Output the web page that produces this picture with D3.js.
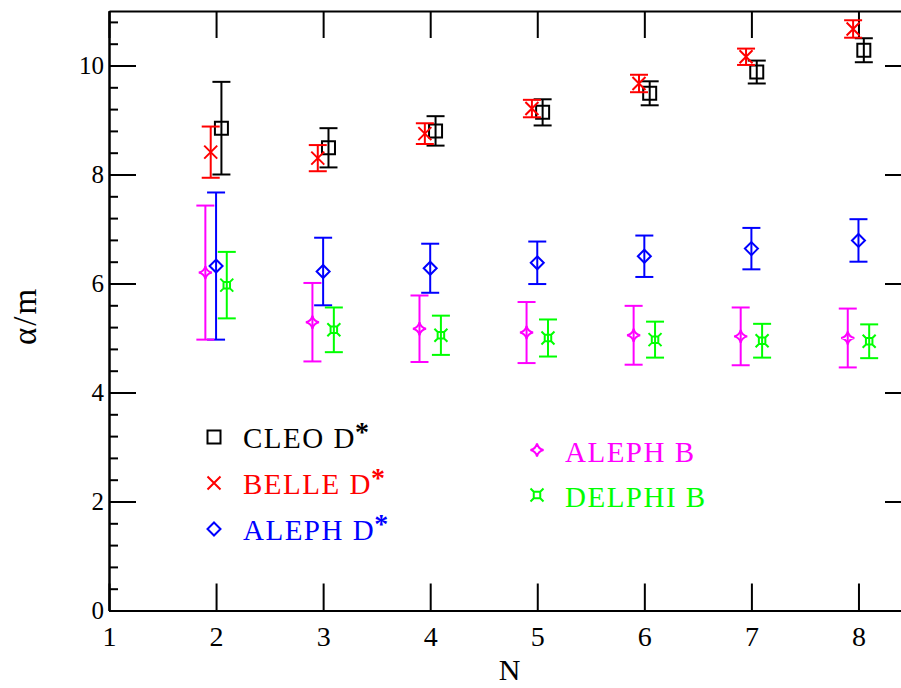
<!DOCTYPE html>
<html>
<head>
<meta charset="utf-8">
<script src="https://cdn.jsdelivr.net/npm/d3@7"></script>
<style>
  html, body { margin: 0; padding: 0; background: #fff; }
  svg { display: block; }
  text { font-family: "Liberation Serif", "DejaVu Serif", serif; }
</style>
</head>
<body>
<svg id="chart" width="901" height="688"></svg>
<script>
// N values of the measurements
const nValues = [2, 3, 4, 5, 6, 7, 8];

// alpha/m per experiment, with symmetric errors
const cleoVal   = [8.85, 8.49, 8.80, 9.14, 9.49, 9.88, 10.28];
const cleoErr   = [0.85, 0.36, 0.27, 0.24, 0.22, 0.21, 0.22];
const belleVal  = [8.41, 8.30, 8.75, 9.21, 9.67, 10.16, 10.67];
const belleErr  = [0.47, 0.24, 0.19, 0.16, 0.16, 0.15, 0.16];
const alephDVal = [6.32, 6.22, 6.28, 6.38, 6.50, 6.64, 6.79];
const alephDErr = [1.35, 0.62, 0.45, 0.39, 0.38, 0.38, 0.39];
const alephBVal = [6.20, 5.29, 5.17, 5.10, 5.05, 5.03, 5.00];
const alephBErr = [1.23, 0.72, 0.61, 0.56, 0.54, 0.53, 0.54];
const delphiVal = [5.97, 5.15, 5.05, 5.00, 4.97, 4.95, 4.94];
const delphiErr = [0.61, 0.41, 0.36, 0.34, 0.33, 0.31, 0.31];

// axis ticks
const xTicks = [1, 2, 3, 4, 5, 6, 7, 8];
const yTicks = [0, 2, 4, 6, 8, 10];
const yMinorTicks = d3.range(0, 11.01, 0.4).filter(v => Math.abs(v / 2 - Math.round(v / 2)) > 1e-6);

// marker shapes (path strings centred on 0,0)
const markers = {
  square: s => `M${-s},${-s}H${s}V${s}H${-s}Z`,
  cross: s => `M${-s},${-s}L${s},${s}M${-s},${s}L${s},${-s}`,
  diamond: s => `M0,${-s}L${s},0L0,${s}L${-s},0Z`,
  star4: s => {
    const c = s * 0.18;
    return `M0,${-s}Q${c},${-c} ${s},0Q${c},${c} 0,${s}Q${-c},${c} ${-s},0Q${-c},${-c} 0,${-s}Z`;
  },
  squareStar: s => {
    const h = s * 0.5;
    return `M${-h},${-h}H${h}V${h}H${-h}Z` +
      `M${-h},${-h}L${-s},${-s}M${h},${-h}L${s},${-s}M${h},${h}L${s},${s}M${-h},${h}L${-s},${s}`;
  }
};

const series = [
  { label: "CLEO D",   star: true,  vals: cleoVal,   errs: cleoErr,   dx: 0.05,  color: "#000000", marker: "square",  size: 6.5 },
  { label: "BELLE D",  star: true,  vals: belleVal,  errs: belleErr,  dx: -0.05, color: "#ff0000", marker: "cross",   size: 6.5 },
  { label: "ALEPH D",  star: true,  vals: alephDVal, errs: alephDErr, dx: 0,     color: "#0000ff", marker: "diamond", size: 6.5 },
  { label: "ALEPH B",  star: false, vals: alephBVal, errs: alephBErr, dx: -0.1,  color: "#ff00ff", marker: "star4",   size: 6.5 },
  { label: "DELPHI B", star: false, vals: delphiVal, errs: delphiErr, dx: 0.1,   color: "#00ff00", marker: "squareStar", size: 6.5 }
];

const svg = d3.select("#chart");
const x = d3.scaleLinear().domain([1, 8.5]).range([109, 912]);
const y = d3.scaleLinear().domain([0, 11]).range([610.5, 11]);

const axisColor = "#000";
function styleAxis(g) {
  g.selectAll("path.domain").attr("stroke", axisColor).attr("stroke-width", 2);
  g.selectAll(".tick line").attr("stroke", axisColor).attr("stroke-width", 2);
}

// left axis: major with labels, minor without
svg.append("g").attr("transform", `translate(${x(1)},0)`)
  .call(d3.axisLeft(y).tickValues(yTicks).tickSize(-27).tickSizeOuter(0).tickPadding(5).tickFormat(d3.format("d")))
  .call(styleAxis)
  .call(g => g.selectAll("text").attr("font-size", 25).attr("fill", "#000")
    .attr("font-family", "'Liberation Serif', serif"));
svg.append("g").attr("transform", `translate(${x(1)},0)`)
  .call(d3.axisLeft(y).tickValues(yMinorTicks).tickSize(-9).tickSizeOuter(0).tickFormat(""))
  .call(styleAxis);

// right axis
svg.append("g").attr("transform", `translate(${x(8.5)},0)`)
  .call(d3.axisRight(y).tickValues(yTicks).tickSize(-27).tickSizeOuter(0).tickFormat(""))
  .call(styleAxis);
svg.append("g").attr("transform", `translate(${x(8.5)},0)`)
  .call(d3.axisRight(y).tickValues(yMinorTicks).tickSize(-9).tickSizeOuter(0).tickFormat(""))
  .call(styleAxis);

// bottom axis with labels
svg.append("g").attr("transform", `translate(0,${y(0)})`)
  .call(d3.axisBottom(x).tickValues(xTicks).tickSize(-27).tickSizeOuter(0).tickPadding(16).tickFormat(d3.format("d")))
  .call(styleAxis)
  .call(g => g.selectAll("text").attr("font-size", 28).attr("fill", "#000")
    .attr("font-family", "'Liberation Serif', serif"));

// top axis
svg.append("g").attr("transform", `translate(0,${y(11)})`)
  .call(d3.axisTop(x).tickValues(xTicks).tickSize(-27).tickSizeOuter(0).tickFormat(""))
  .call(styleAxis);

// axis titles
svg.append("text")
  .attr("x", (x(1) + x(8.5)) / 2 - 1)
  .attr("y", 680)
  .attr("text-anchor", "middle")
  .attr("font-size", 30)
  .text("N");

svg.append("text")
  .attr("transform", "translate(36,316) rotate(-90)")
  .attr("text-anchor", "middle")
  .attr("font-size", 33)
  .attr("letter-spacing", 2)
  .text("\u03B1/m");

// data: error bars and markers
const capHalf = 9;
series.forEach(s => {
  const g = svg.append("g").attr("stroke", s.color).attr("stroke-width", 2).attr("fill", "none");
  const pts = nValues.map((n, i) => ({ n: n + s.dx, v: s.vals[i], e: s.errs[i] }));
  const bars = g.selectAll("g.bar").data(pts).enter().append("g").attr("class", "bar");
  bars.append("line")
    .attr("x1", d => x(d.n)).attr("x2", d => x(d.n))
    .attr("y1", d => y(d.v - d.e)).attr("y2", d => y(d.v + d.e));
  bars.append("line")
    .attr("x1", d => x(d.n) - capHalf).attr("x2", d => x(d.n) + capHalf)
    .attr("y1", d => y(d.v + d.e)).attr("y2", d => y(d.v + d.e));
  bars.append("line")
    .attr("x1", d => x(d.n) - capHalf).attr("x2", d => x(d.n) + capHalf)
    .attr("y1", d => y(d.v - d.e)).attr("y2", d => y(d.v - d.e));
  bars.append("path")
    .attr("transform", d => `translate(${x(d.n)},${y(d.v)})`)
    .attr("d", markers[s.marker](s.size));
});

// legend
const legendPos = [
  { mx: 214, my: 437, tx: 243, ty: 448 },
  { mx: 214, my: 483, tx: 243, ty: 494 },
  { mx: 214, my: 529, tx: 243, ty: 540 },
  { mx: 537, my: 450, tx: 565, ty: 462 },
  { mx: 537, my: 495, tx: 565, ty: 507 }
];
series.forEach((s, i) => {
  const p = legendPos[i];
  svg.append("path")
    .attr("transform", `translate(${p.mx},${p.my})`)
    .attr("d", markers[s.marker](s.size))
    .attr("fill", "none").attr("stroke", s.color).attr("stroke-width", 2);
  const t = svg.append("text")
    .attr("x", p.tx).attr("y", p.ty)
    .attr("font-size", 29)
    .attr("letter-spacing", 1.5)
    .attr("fill", s.color)
    .text(s.label);
  if (s.star) {
    t.append("tspan").attr("dx", -1).attr("dy", -7).attr("font-size", 28)
      .attr("font-weight", "bold").text("*");
  }
});
</script>
</body>
</html>
